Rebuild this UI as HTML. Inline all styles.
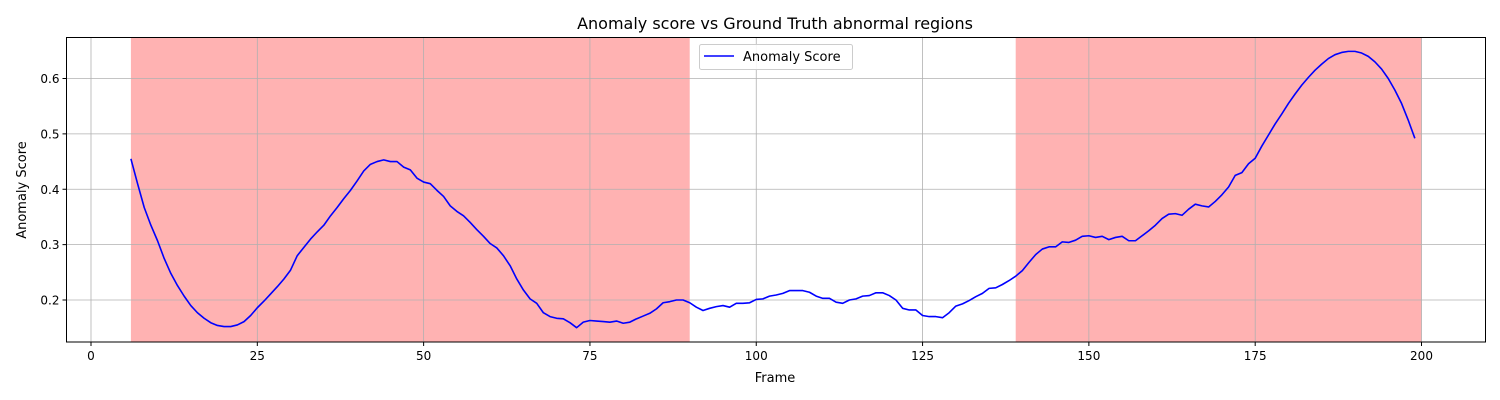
<!DOCTYPE html>
<html><head><meta charset="utf-8"><style>
html,body{margin:0;padding:0;background:#fff;}
svg{display:block;font-family:"DejaVu Sans","Liberation Sans",sans-serif;}
</style></head><body>
<svg id="chart" width="1500" height="400" viewBox="0 0 1500 400" xmlns="http://www.w3.org/2000/svg">
<rect width="1500" height="400" fill="#fff"/>
<text x="775" y="29" text-anchor="middle" font-size="16" fill="#000">Anomaly score vs Ground Truth abnormal regions</text>
<g id="regions"></g>
<g id="grid"></g>
<g id="ticks"></g>
<path id="line" fill="none" stroke="#0000ff" stroke-width="1.6" stroke-linejoin="round"/>
<rect x="66.5" y="37.5" width="1419" height="304.5" fill="none" stroke="#000" stroke-width="1"/>
<text x="775" y="382" text-anchor="middle" font-size="13">Frame</text>
<text x="26" y="190" text-anchor="middle" font-size="13" transform="rotate(-90 26 190)">Anomaly Score</text>
<g>
<rect x="699.5" y="44.5" width="153" height="25" rx="2" fill="#fff" fill-opacity="0.85" stroke="#ccc"/>
<line x1="704" y1="56" x2="734" y2="56" stroke="#0000ff" stroke-width="1.6"/>
<text x="743" y="61" font-size="13">Anomaly Score</text>
</g>
</svg>
<script>
const startFrame = 6;
const scores = [0.455,0.41,0.367,0.335,0.307,0.275,0.248,0.226,0.207,0.19,0.177,0.167,0.159,0.154,0.152,0.152,0.155,0.161,0.172,0.186,0.198,0.211,0.224,0.238,0.254,0.28,0.295,0.31,0.323,0.335,0.352,0.367,0.383,0.398,0.415,0.433,0.445,0.45,0.453,0.45,0.45,0.44,0.435,0.42,0.413,0.41,0.398,0.387,0.37,0.36,0.352,0.34,0.327,0.315,0.302,0.294,0.28,0.262,0.238,0.218,0.202,0.194,0.177,0.17,0.167,0.166,0.159,0.15,0.16,0.163,0.162,0.161,0.16,0.162,0.158,0.16,0.166,0.171,0.176,0.184,0.195,0.197,0.2,0.2,0.195,0.187,0.181,0.185,0.188,0.19,0.187,0.194,0.194,0.195,0.201,0.202,0.207,0.209,0.212,0.217,0.217,0.217,0.214,0.207,0.203,0.203,0.196,0.194,0.2,0.202,0.207,0.208,0.213,0.213,0.208,0.2,0.185,0.182,0.182,0.172,0.17,0.17,0.168,0.177,0.189,0.193,0.199,0.206,0.212,0.221,0.222,0.228,0.235,0.243,0.253,0.268,0.282,0.292,0.296,0.296,0.305,0.304,0.308,0.315,0.316,0.313,0.315,0.309,0.313,0.315,0.307,0.307,0.316,0.325,0.335,0.347,0.355,0.356,0.353,0.364,0.373,0.37,0.368,0.378,0.39,0.404,0.425,0.43,0.446,0.456,0.478,0.498,0.518,0.536,0.555,0.572,0.588,0.602,0.615,0.626,0.636,0.643,0.647,0.649,0.649,0.646,0.64,0.63,0.617,0.6,0.579,0.555,0.525,0.492];
const regionStarts = [6,139];
const regionEnds = [90,200];
const xTicks = [0,25,50,75,100,125,150,175,200];
const yTicks = [0.2,0.3,0.4,0.5,0.6];

const NS = "http://www.w3.org/2000/svg";
const X = f => 91 + f * (1421.5 - 91) / 200;
const Y = v => 300 - (v - 0.2) * (300 - 78.5) / 0.4;
const L = 66.5, R = 1485.5, T = 37.5, B = 342;
function mk(tag, attrs, parent){const e=document.createElementNS(NS,tag);for(const k in attrs)e.setAttribute(k,attrs[k]);parent.appendChild(e);return e;}

const reg = document.getElementById('regions');
regionStarts.forEach((s,i)=>{
  const r = mk('rect',{x:X(s),y:T,width:X(regionEnds[i])-X(s),height:B-T,fill:'#ff0000','fill-opacity':0.3},reg);
  
  
});
const grid = document.getElementById('grid');
const ticks = document.getElementById('ticks');
xTicks.forEach(t=>{
  const g = mk('line',{x1:X(t),x2:X(t),y1:T,y2:B,stroke:'#b0b0b0','stroke-width':0.8},grid);
  
  
  mk('line',{x1:X(t),x2:X(t),y1:B,y2:B+4,stroke:'#000'},ticks);
  const lb = mk('text',{x:X(t),y:B+18,'text-anchor':'middle','font-size':12},ticks);
  lb.textContent = t;
  
  
});
yTicks.forEach(t=>{
  const g = mk('line',{x1:L,x2:R,y1:Y(t),y2:Y(t),stroke:'#b0b0b0','stroke-width':0.8},grid);
  
  
  mk('line',{x1:L-4,x2:L,y1:Y(t),y2:Y(t),stroke:'#000'},ticks);
  const lb = mk('text',{x:L-7,y:Y(t)+4.5,'text-anchor':'end','font-size':12},ticks);
  lb.textContent = t.toFixed(1);
  
  
});
document.getElementById('line').setAttribute('d', scores.map((v,i)=>(i?'L':'M')+X(startFrame+i).toFixed(2)+' '+Y(v).toFixed(2)).join(' '));
</script>
</body></html>
